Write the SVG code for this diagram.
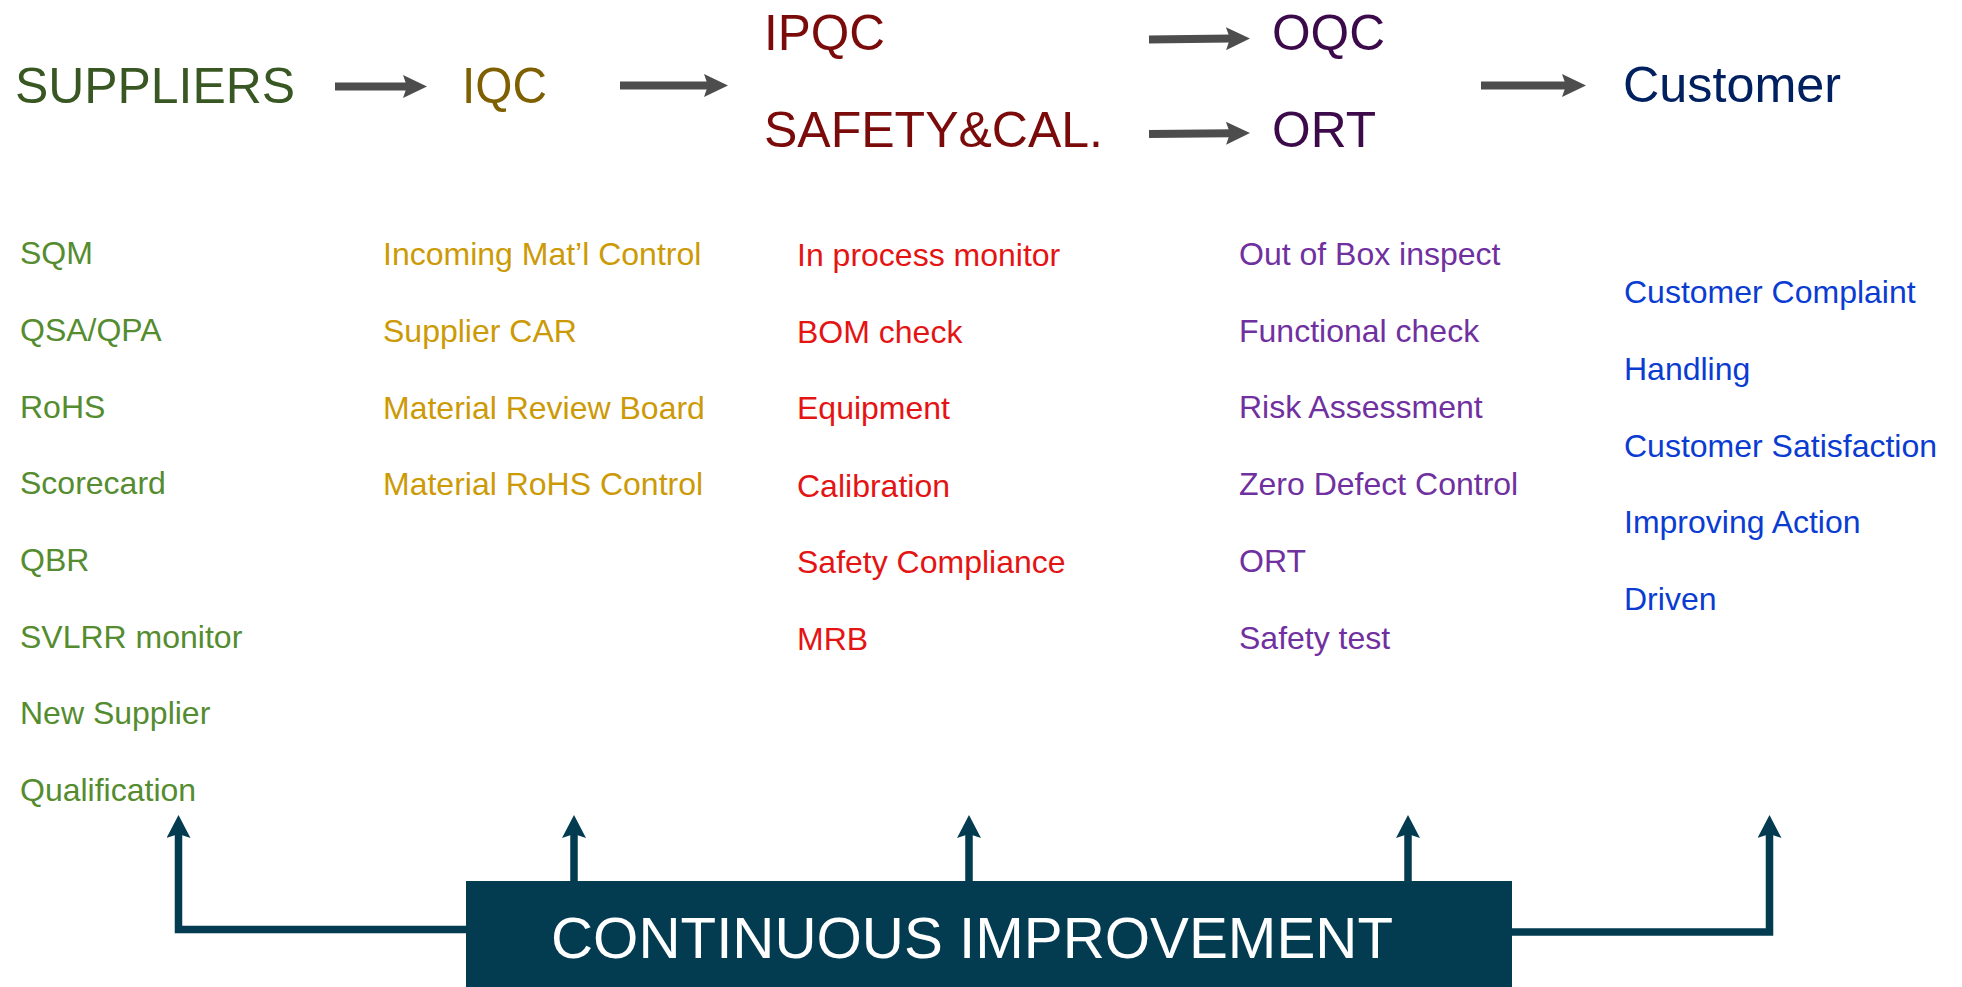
<svg xmlns="http://www.w3.org/2000/svg" width="1962" height="987" viewBox="0 0 1962 987">
<defs>
<style>
text{font-family:"Liberation Sans",Arial,Helvetica,sans-serif}
.big{font-size:50px}
.itm{font-size:32px}
.g1{fill:#385723}.y1{fill:#7F6000}.r1{fill:#7B0A0A}.p1{fill:#3C0A4A}.b1{fill:#002060}
.g2{fill:#548C2F}.y2{fill:#CC9A06}.r2{fill:#E41414}.p2{fill:#7030A0}.b2{fill:#0A3CD2}
.flow{stroke:#4D4D4D;stroke-width:8;fill:none}
.ci{stroke:#033B50;stroke-width:7.5;fill:none}
</style>
<marker id="ah" markerUnits="userSpaceOnUse" markerWidth="24" markerHeight="23" refX="5" refY="11.5" orient="auto" viewBox="0 0 24 23">
<path d="M0,0 L24,11.5 L0,23 L4,11.5 Z" fill="#4D4D4D"/>
</marker>
<marker id="au" markerUnits="userSpaceOnUse" markerWidth="23" markerHeight="24" refX="5" refY="12" orient="auto" viewBox="0 0 23 24">
<path d="M0,0 L23,12 L0,24 L4,12 Z" fill="#033B50"/>
</marker>
</defs>
<rect width="1962" height="987" fill="#FFFFFF"/>

<g id="suppliers"><text class="big g1" x="15" y="103" textLength="280" lengthAdjust="spacingAndGlyphs">SUPPLIERS</text></g>
<g id="iqc"><text class="big y1" x="462" y="103" textLength="85" lengthAdjust="spacingAndGlyphs">IQC</text></g>
<g id="ipqc"><text class="big r1" x="764" y="50" textLength="121" lengthAdjust="spacingAndGlyphs">IPQC</text></g>
<g id="safety"><text class="big r1" x="764" y="147" textLength="339" lengthAdjust="spacingAndGlyphs">SAFETY&amp;CAL.</text></g>
<g id="oqc"><text class="big p1" x="1272" y="50" textLength="113" lengthAdjust="spacingAndGlyphs">OQC</text></g>
<g id="ort"><text class="big p1" x="1272" y="147" textLength="104" lengthAdjust="spacingAndGlyphs">ORT</text></g>
<g id="customer"><text class="big b1" x="1623" y="102" textLength="218" lengthAdjust="spacingAndGlyphs">Customer</text></g>

<g id="list-suppliers" class="itm g2">
<text x="20" y="264">SQM</text>
<text x="20" y="341">QSA/QPA</text>
<text x="20" y="418">RoHS</text>
<text x="20" y="494">Scorecard</text>
<text x="20" y="571">QBR</text>
<text x="20" y="648">SVLRR monitor</text>
<text x="20" y="724">New Supplier</text>
<text x="20" y="801">Qualification</text>
</g>
<g id="list-iqc" class="itm y2">
<text x="383" y="265">Incoming Mat’l Control</text>
<text x="383" y="342">Supplier CAR</text>
<text x="383" y="419">Material Review Board</text>
<text x="383" y="495">Material RoHS Control</text>
</g>
<g id="list-ipqc" class="itm r2">
<text x="797" y="266">In process monitor</text>
<text x="797" y="343">BOM check</text>
<text x="797" y="419">Equipment</text>
<text x="797" y="497">Calibration</text>
<text x="797" y="573">Safety Compliance</text>
<text x="797" y="650">MRB</text>
</g>
<g id="list-oqc" class="itm p2">
<text x="1239" y="265">Out of Box inspect</text>
<text x="1239" y="342">Functional check</text>
<text x="1239" y="418">Risk Assessment</text>
<text x="1239" y="495">Zero Defect Control</text>
<text x="1239" y="572">ORT</text>
<text x="1239" y="649">Safety test</text>
</g>
<g id="list-customer" class="itm b2">
<text x="1624" y="303">Customer Complaint</text>
<text x="1624" y="380">Handling</text>
<text x="1624" y="457">Customer Satisfaction</text>
<text x="1624" y="533">Improving Action</text>
<text x="1624" y="610">Driven</text>
</g>

<g id="continuous-improvement">
<rect x="466" y="881" width="1046" height="110" fill="#033B50"/>
<text x="551" y="958" font-size="58" fill="#FFFFFF" textLength="842" lengthAdjust="spacingAndGlyphs">CONTINUOUS IMPROVEMENT</text>
</g>

<g id="connectors">
<line class="flow" x1="335" y1="86.5" x2="408" y2="86.5" marker-end="url(#ah)"/>
<line class="flow" x1="620" y1="85.5" x2="709" y2="85.5" marker-end="url(#ah)"/>
<line class="flow" x1="1149" y1="39.5" x2="1231" y2="38.6" marker-end="url(#ah)"/>
<line class="flow" x1="1149" y1="134" x2="1231" y2="133.2" marker-end="url(#ah)"/>
<line class="flow" x1="1481" y1="85.5" x2="1567" y2="85.5" marker-end="url(#ah)"/>

<path class="ci" d="M466,929.5 L178.5,929.5 L178.5,833" marker-end="url(#au)"/>
<path class="ci" d="M1511,932 L1769.5,932 L1769.5,833" marker-end="url(#au)"/>
<line class="ci" x1="574" y1="882" x2="574" y2="833" marker-end="url(#au)"/>
<line class="ci" x1="969" y1="882" x2="969" y2="833" marker-end="url(#au)"/>
<line class="ci" x1="1408" y1="882" x2="1408" y2="833" marker-end="url(#au)"/>
</g>
</svg>
